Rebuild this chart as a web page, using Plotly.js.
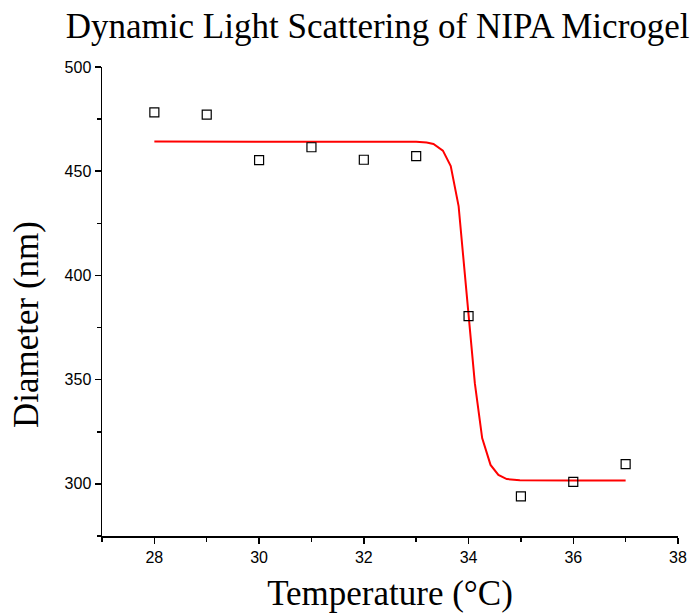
<!DOCTYPE html>
<html>
<head>
<meta charset="utf-8">
<script src="https://cdn.plot.ly/plotly-3.0.1.min.js"></script>
<style>html,body{margin:0;padding:0;background:#fff}#chart{width:693px;height:616px}</style>
</head>
<body>
<div id="chart"></div>
<script>
// Measured data (open squares)
var temperature = [28, 29, 30, 31, 32, 33, 34, 35, 36, 37];
var diameter = [478.2, 477.2, 455.3, 461.5, 455.5, 457.2, 380.5, 294.0, 301.0, 309.5];

// Fitted curve (red line)
var fitT = [28, 29, 30, 31, 32, 33, 33.2, 33.33, 33.51, 33.66, 33.81, 34.0, 34.12, 34.26, 34.42, 34.57, 34.73, 34.98, 35.5, 36, 36.5, 37];
var fitD = [464.2, 464.2, 464.2, 464.2, 464.2, 464.1, 463.8, 463.1, 459.9, 452.5, 433.3, 381.9, 348.3, 322.0, 309.1, 304.3, 302.3, 301.8, 301.6, 301.6, 301.6, 301.6];

var titleText = 'Dynamic Light Scattering of NIPA Microgel';
var xTitle = 'Temperature (°C)';
var yTitle = 'Diameter (nm)';
var xTicks = [28, 30, 32, 34, 36, 38];
var xMinor = [27, 29, 31, 33, 35, 37];
var yTicks = [300, 350, 400, 450, 500];
var yMinor = [275, 325, 375, 425, 475];

var serif = 'Liberation Serif, Times New Roman, serif';
var sans = 'Arial, Liberation Sans, sans-serif';

var traces = [
  {x: fitT, y: fitD, mode: 'lines', type: 'scatter',
   line: {color: '#ff0000', width: 2}, hoverinfo: 'skip'},
  {x: temperature, y: diameter, mode: 'markers', type: 'scatter',
   marker: {symbol: 'square-open', size: 9, color: '#000000', line: {width: 1.2}}}
];

var layout = {
  width: 693, height: 616,
  font: {family: sans, size: 16, color: '#000'},
  margin: {l: 102, r: 15, t: 67, b: 80},
  paper_bgcolor: '#ffffff', plot_bgcolor: '#ffffff',
  showlegend: false,
  title: {text: titleText,
          font: {family: serif, size: 35, color: '#000'},
          x: 0.545, xanchor: 'center', y: 0.978, yanchor: 'top'},
  xaxis: {range: [27, 38], tickmode: 'array', tickvals: xTicks,
          ticks: 'outside', ticklen: 6, tickwidth: 1.5, tickcolor: '#000',
          showline: true, linecolor: '#000', linewidth: 1.5, showgrid: false, zeroline: false,
          tickfont: {family: sans, size: 16, color: '#000'},
          minor: {tickvals: xMinor, ticks: 'outside', ticklen: 4, tickwidth: 1.5, tickcolor: '#000', showgrid: false},
          title: {text: xTitle, standoff: 16,
                  font: {family: serif, size: 35, color: '#000'}}},
  yaxis: {range: [275, 500], tickmode: 'array', tickvals: yTicks,
          ticks: 'outside', ticklen: 6, tickwidth: 1.5, tickcolor: '#000',
          showline: true, linecolor: '#000', linewidth: 1.5, showgrid: false, zeroline: false,
          tickfont: {family: sans, size: 16, color: '#000'},
          minor: {tickvals: yMinor, ticks: 'outside', ticklen: 4, tickwidth: 1.5, tickcolor: '#000', showgrid: false}},
  annotations: [
    {text: yTitle, textangle: -90, showarrow: false,
     xref: 'paper', yref: 'paper', x: -0.130, y: 0.45, xanchor: 'center', yanchor: 'middle',
     font: {family: serif, size: 35, color: '#000'}}
  ]
};

Plotly.newPlot('chart', traces, layout, {displayModeBar: false, staticPlot: true});
</script>
</body>
</html>
